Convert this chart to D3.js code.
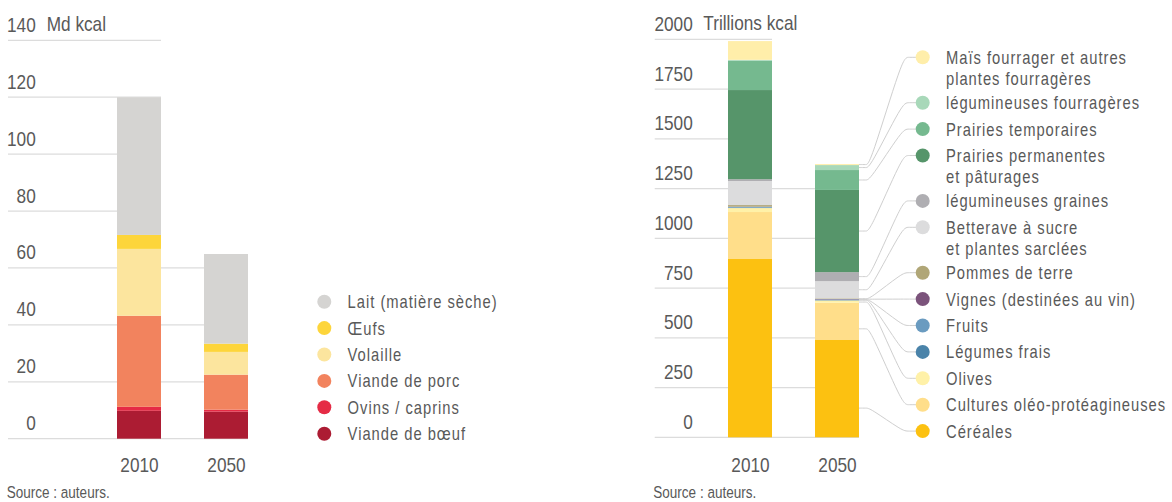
<!DOCTYPE html>
<html lang="fr">
<head>
<meta charset="utf-8">
<script src="https://cdn.jsdelivr.net/npm/d3@7"></script>
<style>
  body { margin: 0; background: #fff; }
  svg { font-family: 'Liberation Sans', Arial, sans-serif; }
</style>
</head>
<body>
<div id="chart"></div>
<script>
// years on both panels
const years = ['2010', '2050'];

// left panel: animal products (Md kcal), stacked bottom -> top
const animalKeys = ['boeuf', 'ovins', 'porc', 'volaille', 'oeufs', 'lait'];
const animalLabels = ['Viande de bœuf', 'Ovins / caprins', 'Viande de porc', 'Volaille', 'Œufs', 'Lait (matière sèche)'];
const animalColors = ['#ac1c33', '#e52b45', '#f2835e', '#fce59e', '#fdd53b', '#d5d4d2'];
const animal2010 = [9.8, 1.4, 32, 23.5, 4.9, 48.4];
const animal2050 = [9.5, 0.7, 12.3, 8, 2.9, 31.5];
const animalTicks = [0, 20, 40, 60, 80, 100, 120, 140];

// right panel: crops (trillions kcal), stacked bottom -> top
const cropKeys = ['cereales', 'oleo', 'olives', 'legumes', 'fruits', 'vignes', 'pdt',
  'betterave', 'legGraines', 'prairiesPerm', 'prairiesTemp', 'legFourr', 'mais'];
const cropLabels = ['Céréales', 'Cultures oléo-protéagineuses', 'Olives', 'Légumes frais', 'Fruits',
  'Vignes (destinées au vin)', 'Pommes de terre', 'Betterave à sucre|et plantes sarclées',
  'légumineuses graines', 'Prairies permanentes|et pâturages', 'Prairies temporaires',
  'légumineuses fourragères', 'Maïs fourrager et autres|plantes fourragères'];
const cropColors = ['#fcc111', '#ffde8a', '#fff1a8', '#4a83a9', '#6a9bc0', '#7b537b', '#b0a677',
  '#dcdcdd', '#afaeb2', '#56956a', '#75b98f', '#a8d8b9', '#ffeeaa'];
const crop2010 = [896, 236, 20, 3, 3, 1, 8, 121, 9, 448, 147, 5, 94];
const crop2050 = [489, 187, 12, 3, 2, 2, 3, 87, 45, 413, 100, 25, 5];
const cropTicks = [0, 250, 500, 750, 1000, 1250, 1500, 1750, 2000];

const textColor = '#595959';
const gridColor = '#dcdcdc';
const lineColor = '#cfcfcf';
// no condensed face installed: squeeze a regular one
const squeeze = 0.82;

const svg = d3.select('#chart').append('svg')
  .attr('width', 1172)
  .attr('height', 502);

// one row per year for d3.stack
function table(keys, series) {
  return years.map((year, i) => {
    const row = {year};
    keys.forEach((k, j) => { row[k] = series[i][j]; });
    return row;
  });
}

// condensed text placed at (x, y)
function narrowText(sel, x, y, size) {
  return sel.append('text')
    .attr('transform', `translate(${x}, ${y}) scale(${squeeze}, 1)`)
    .style('font-size', `${size}px`)
    .style('fill', textColor);
}

function panel(s) {
  const g = svg.append('g').attr('class', s.id);
  const rows = table(s.keys, s.series);
  const stacked = d3.stack().keys(s.keys)(rows);
  const totals = rows.map(r => d3.sum(s.keys, k => r[k]));

  const y = d3.scaleLinear().domain([0, d3.max(s.ticks)]).range([s.bottom, s.top]);
  const x = d3.scalePoint().domain(years).range(s.centers);
  const half = s.barWidth / 2;

  // grid, each line stops at the last bar reaching it
  const gridEnd = v => {
    let idx = 0;
    totals.forEach((t, i) => { if (t >= v) idx = i; });
    return x(years[idx]) + half;
  };
  g.append('g').attr('class', 'grid')
    .selectAll('line').data(s.ticks).join('line')
    .attr('x1', s.left)
    .attr('x2', gridEnd)
    .attr('y1', d => y(d))
    .attr('y2', d => y(d))
    .style('stroke', gridColor)
    .style('stroke-width', 1.3);

  // y labels sit above their line
  g.append('g')
    .attr('transform', `translate(${s.tickRight}, 0)`)
    .call(d3.axisLeft(y).tickValues(s.ticks).tickFormat(d3.format('d')).tickSize(0).tickPadding(0))
    .call(a => a.select('.domain').remove())
    .call(a => a.selectAll('text').attr('x', 0).attr('y', -9).attr('dy', 0)
      .attr('transform', `scale(${squeeze}, 1)`))
    .attr('font-family', null)
    .attr('font-size', 21)
    .attr('color', textColor);

  narrowText(g, s.unitX, y(d3.max(s.ticks)) - 9, 21).text(s.unit);

  // bars
  g.append('g').attr('class', 'bars')
    .selectAll('g').data(stacked).join('g')
    .attr('fill', (d, i) => s.colors[i])
    .selectAll('rect').data(d => d).join('rect')
    .attr('x', d => x(d.data.year) - half)
    .attr('y', d => y(d[1]))
    .attr('width', s.barWidth)
    .attr('height', d => y(d[0]) - y(d[1]));

  // years
  g.append('g')
    .attr('transform', `translate(0, ${s.yearY})`)
    .call(d3.axisBottom(x).tickSize(0).tickPadding(0))
    .call(a => a.select('.domain').remove())
    .call(a => a.selectAll('text').attr('y', 0).attr('dy', 0)
      .attr('transform', `scale(${squeeze}, 1)`))
    .attr('font-family', null)
    .attr('font-size', 21)
    .attr('color', textColor);

  // legend, top item = top of the stack
  const items = s.keys.map((k, i) => ({
    key: k, index: i, color: s.colors[i], lines: s.labels[i].split('|')
  })).reverse();
  let cy = s.legendTop;
  items.forEach(d => {
    d.cy = cy;
    cy += 26.4 + (d.lines.length - 1) * 19;
  });

  // connectors from the last bar to the legend dots
  if (s.connectors) {
    const last = years.length - 1;
    const x0 = x(years[last]) + half;
    const anchor = (top, bot, target) => {
      const mid = (top + bot) / 2;
      return target > mid ? Math.min(target, bot - 0.3 * (bot - top)) : mid;
    };
    const line = d3.line().curve(d3.curveBasis);
    g.append('g').attr('class', 'connectors')
      .selectAll('path').data(items).join('path')
      .attr('d', d => {
        const seg = stacked[d.index][last];
        const ay = anchor(y(seg[1]), y(seg[0]), d.cy);
        return line([
          [x0, ay], [x0 + 7, ay], [x0 + 11, ay],
          [s.legendX - 20, d.cy], [s.legendX - 15, d.cy], [s.legendX, d.cy]
        ]);
      })
      .style('fill', 'none')
      .style('stroke', lineColor)
      .style('stroke-width', 1);
  }

  const leg = g.append('g').attr('class', 'legend')
    .selectAll('g').data(items).join('g')
    .attr('transform', d => `translate(${s.legendX}, ${d.cy})`);
  leg.append('circle')
    .attr('r', 7)
    .style('fill', d => d.color);
  leg.each(function(d) {
    narrowText(d3.select(this), 23.3, 6.5, 18)
      .style('letter-spacing', '1.2px')
      .selectAll('tspan').data(d.lines).join('tspan')
      .attr('x', 0)
      .attr('dy', (t, i) => i ? 21.5 : 0)
      .text(t => t);
  });

  narrowText(g, s.sourceX, 498, 16.5).text('Source : auteurs.');
}

panel({
  id: 'animal',
  keys: animalKeys,
  labels: animalLabels,
  colors: animalColors,
  series: [animal2010, animal2050],
  ticks: animalTicks,
  unit: 'Md kcal',
  left: 8, tickRight: 35.7, unitX: 46.7,
  top: 40.3, bottom: 438.7,
  centers: [139, 226], barWidth: 44, yearY: 471.5,
  legendX: 324.3, legendTop: 301.7,
  sourceX: 6.7,
  connectors: false
});

panel({
  id: 'crops',
  keys: cropKeys,
  labels: cropLabels,
  colors: cropColors,
  series: [crop2010, crop2050],
  ticks: cropTicks,
  unit: 'Trillions kcal',
  left: 654.7, tickRight: 692.7, unitX: 703.3,
  top: 39.3, bottom: 437.3,
  centers: [750, 837], barWidth: 44, yearY: 471.5,
  legendX: 922.7, legendTop: 57.3,
  sourceX: 653.3,
  connectors: true
});
</script>
</body>
</html>
